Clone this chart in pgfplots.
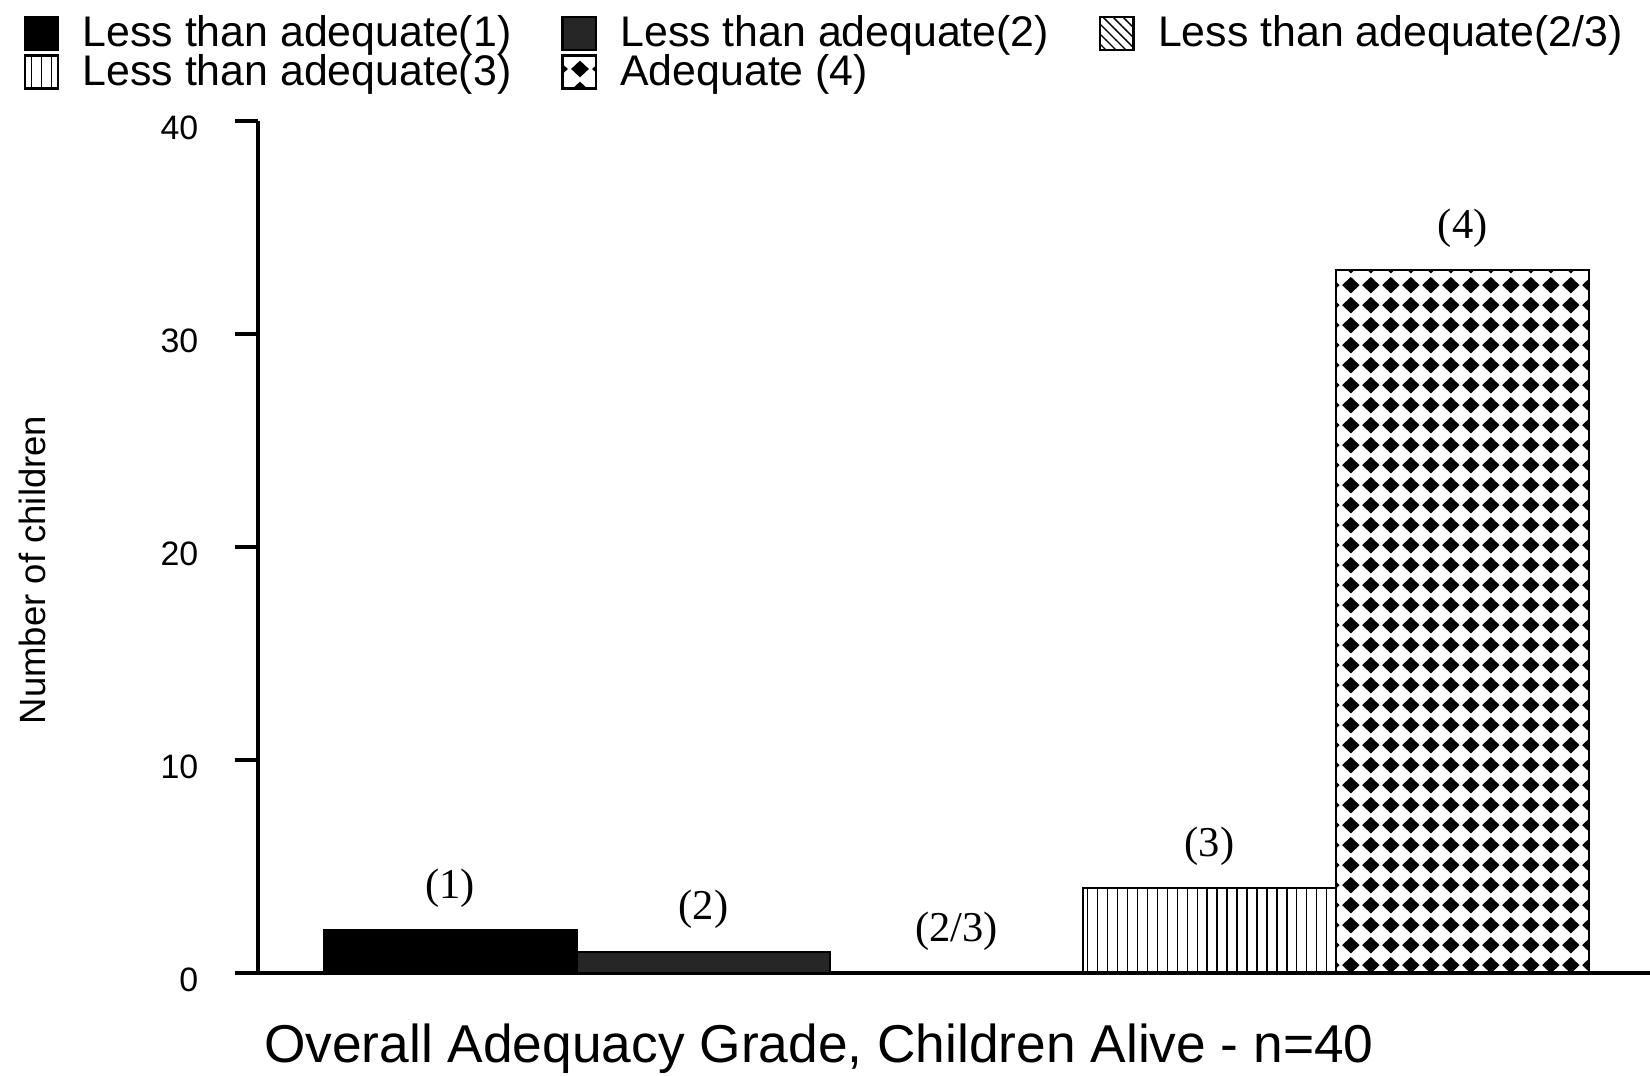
\documentclass[border=0pt]{standalone}
\usepackage{fontspec}
\setmainfont{Liberation Sans}
\newfontfamily\serifrm{Liberation Serif}
\usepackage{pgfplots}
\pgfplotsset{compat=1.18}
\usetikzlibrary{patterns}

\pgfdeclarepatternformonly{bigdiamonds}{\pgfpointorigin}{\pgfpoint{6.1bp}{6.1bp}}{\pgfpoint{6.1bp}{6.1bp}}{%
  \pgfpathmoveto{\pgfpoint{0.35bp}{3.05bp}}%
  \pgfpathlineto{\pgfpoint{3.05bp}{5.6bp}}%
  \pgfpathlineto{\pgfpoint{5.75bp}{3.05bp}}%
  \pgfpathlineto{\pgfpoint{3.05bp}{0.5bp}}%
  \pgfpathclose
  \pgfusepath{fill}%
}

\pgfplotsset{
  mybar/.style={ybar, bar width=1, bar shift=0pt, draw=black, line width=0.6bp,
    legend image code/.code={\draw[##1, line width=0.7bp] (0bp,-4.9bp) rectangle (10bp,5bp);}},
}

\pgfplotstableread[row sep=\\]{
x y lab\\
0 2 (1)\\
}\tone
\pgfplotstableread[row sep=\\]{
x y lab\\
1 1 (2)\\
}\ttwo
\pgfplotstableread[row sep=\\]{
x y lab\\
2 0 (2/3)\\
}\ttwothree
\pgfplotstableread[row sep=\\]{
x y lab\\
3 4 (3)\\
}\tthree
\pgfplotstableread[row sep=\\]{
x y lab\\
4 33 (4)\\
}\tfour

\begin{document}
\begin{tikzpicture}
\useasboundingbox (-77.4bp,-30.9bp) rectangle (417.6bp,291.9bp);
\begin{axis}[
  at={(0,0)}, anchor=south west,
  scale only axis, width=417.6bp, height=255.6bp,
  xmin=-0.76, xmax=4.74, ymin=0, ymax=40,
  axis lines=left, axis line style={-, line width=1bp},
  xtick=\empty, ytick={0,10,20,30,40},
  tick align=outside, major tick length=6.9bp,
  every tick/.style={black, line width=1bp},
  /pgf/number format/assume math mode=true,
  yticklabel style={font=\fontsize{10.2}{12}\selectfont, yshift=-2bp, xshift=-7.5bp},
  ylabel={Number of children},
  every axis y label/.style={at={(axis description cs:-0.1523,0.473)}, rotate=90, anchor=base, font=\fontsize{11}{13}\selectfont},
  xlabel={Overall Adequacy Grade, Children Alive - n=40},
  every axis x label/.style={at={(axis description cs:0.403,-0.1056)}, anchor=base, font=\fontsize{16.05}{19}\selectfont},
  nodes near coords, point meta=explicit symbolic,
  every node near coord/.append style={font=\serifrm\fontsize{12.8}{14}\selectfont, anchor=center, yshift=12.6bp, black},
  legend columns=3, legend cell align=left,
  legend style={draw=none, fill=none, at={(axis description cs:-0.1688,1.1245)}, anchor=north west,
    font=\fontsize{12.9}{14}\selectfont, inner sep=0pt, row sep=0.8bp,
    nodes={inner sep=0pt},
    /tikz/every odd column/.append style={column sep=7bp},
    /tikz/every even column/.append style={column sep=15bp}},
]
\addplot[mybar, fill=black] table[x=x, y=y, meta=lab] {\tone};
\addlegendentry{Less than adequate(1)}
\addplot[mybar, fill=black!85] table[x=x, y=y, meta=lab] {\ttwo};
\addlegendentry{Less than adequate(2)}
\addplot[mybar, pattern=north west lines] table[x=x, y=y, meta=lab] {\ttwothree};
\addlegendentry{Less than adequate(2/3)}
\addplot[mybar, pattern=vertical lines] table[x=x, y=y, meta=lab] {\tthree};
\addlegendentry{Less than adequate(3)}
\addplot[mybar, pattern=bigdiamonds] table[x=x, y=y, meta=lab] {\tfour};
\addlegendentry{Adequate (4)}
\end{axis}
\end{tikzpicture}
\end{document}
